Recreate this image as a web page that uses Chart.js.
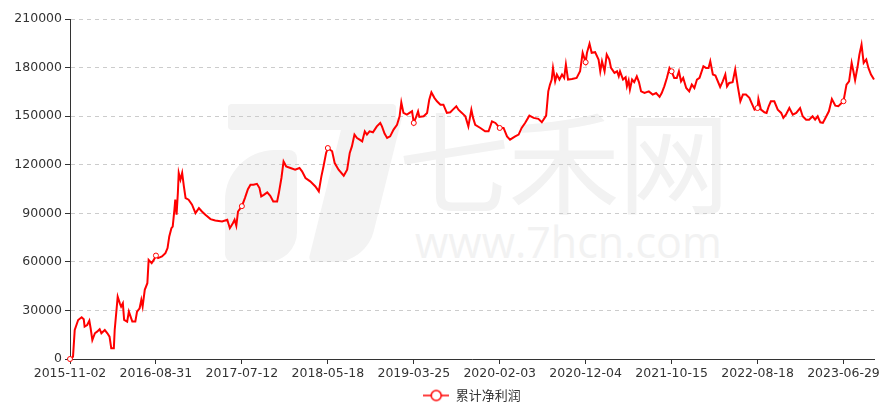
<!DOCTYPE html>
<html>
<head>
<meta charset="utf-8">
<title>累计净利润</title>
<script src="https://cdn.jsdelivr.net/npm/chart.js@4.4.0/dist/chart.umd.min.js"></script>
<style>
  html, body { margin: 0; padding: 0; background: #fff; }
  #wrap { position: relative; width: 896px; height: 409px; overflow: hidden; }
  .watermark { position: absolute; color: #f2f2f2; white-space: nowrap; line-height: 1; }
  #wm-cn { left: 398px; top: 76px; font: 112px "Noto Sans CJK SC", sans-serif; letter-spacing: -2px; }
  #wm-url { left: 415px; top: 212px; font: 43px "Open Sans", sans-serif; }
  .logo { position: absolute; background: #f3f3f3; }
  #logo-bar { left: 228px; top: 104px; width: 168px; height: 26px; border-radius: 4px; }
  #logo-stem { left: 326px; top: 118px; width: 58px; height: 144px; transform: skewX(-14deg); border-radius: 0 0 30px 6px; }
  #logo-leaf { left: 225px; top: 150px; width: 72px; height: 112px; border-radius: 50px 8px 30px 8px; }
  canvas { position: absolute; left: 0; top: 0; }
</style>
</head>
<body>
<div id="wrap">
  <div class="logo" id="logo-bar"></div>
  <div class="logo" id="logo-stem"></div>
  <div class="logo" id="logo-leaf"></div>
  <div class="watermark" id="wm-cn">七禾网</div>
  <div class="watermark" id="wm-url">www.7hcn.com</div>
  <canvas id="profit-chart" width="896" height="409"></canvas>
</div>
<script>
// data //
const seriesName = '累计净利润';

// x tick labels, one every 200 trading days
const tickLabels = ['2015-11-02', '2016-08-31', '2017-07-12', '2018-05-18', '2019-03-25',
  '2020-02-03', '2020-12-04', '2021-10-15', '2022-08-18', '2023-06-29'];
const tickStep = 200;
const lastDay = 1871;

// trading day index (from 2015-11-02)
const tradeDay = [
  0, 7, 11, 19, 27, 32, 34, 40, 45, 48,
  52, 58, 63, 69, 73, 81, 87, 92, 96, 102,
  104, 111, 116, 119, 123, 126, 133, 137, 141, 145,
  152, 156, 162, 166, 169, 174, 180, 183, 190, 195,
  200, 205, 214, 222, 227, 231, 236, 239, 243, 245,
  248, 251, 253, 257, 261, 265, 269, 276, 284, 292,
  300, 307, 315, 327, 338, 354, 366, 372, 379, 383,
  387, 391, 400, 407, 414, 420, 427, 435, 441, 445,
  451, 459, 466, 473, 482, 486, 492, 497, 503, 513,
  524, 534, 540, 548, 559, 571, 579, 585, 590, 596,
  600, 610, 616, 625, 637, 645, 651, 656, 662, 668,
  674, 680, 686, 691, 697, 705, 714, 722, 726, 732,
  738, 745, 753, 761, 767, 771, 776, 784, 790, 796,
  800, 806, 810, 813, 823, 831, 836, 841, 848, 854,
  862, 869, 877, 885, 891, 899, 904, 912, 920, 927,
  934, 938, 943, 955, 966, 974, 982, 990, 1000, 1009,
  1017, 1024, 1036, 1044, 1051, 1059, 1069, 1079, 1090, 1098,
  1108, 1113, 1117, 1121, 1124, 1129, 1133, 1139, 1145, 1150,
  1154, 1159, 1168, 1179, 1187, 1193, 1200, 1203, 1209, 1214,
  1222, 1230, 1234, 1238, 1244, 1249, 1255, 1259, 1267, 1273,
  1277, 1280, 1287, 1293, 1296, 1300, 1303, 1308, 1313, 1319,
  1324, 1329, 1337, 1347, 1356, 1364, 1372, 1377, 1383, 1389,
  1395, 1400, 1406, 1412, 1417, 1422, 1427, 1434, 1441, 1447,
  1453, 1459, 1465, 1474, 1480, 1486, 1490, 1496, 1502, 1513,
  1519, 1525, 1529, 1534, 1542, 1548, 1554, 1560, 1566, 1573,
  1581, 1586, 1593, 1600, 1602, 1608, 1616, 1621, 1626, 1631,
  1639, 1647, 1655, 1660, 1666, 1674, 1682, 1690, 1699, 1705,
  1713, 1720, 1728, 1734, 1740, 1746, 1752, 1758, 1766, 1773,
  1781, 1788, 1800, 1807, 1813, 1819, 1823, 1827, 1833, 1837,
  1842, 1847, 1853, 1858, 1864, 1871
];

// cumulative net profit
const netProfit = [
  0, 1400, 18000, 24100, 25800, 24500, 20000, 21000, 23700, 19000,
  11700, 15900, 16900, 18400, 15900, 17900, 15900, 13800, 6600, 6600,
  17900, 38500, 34400, 32400, 34400, 24100, 23100, 29300, 26200, 23100,
  23100, 29300, 31300, 36500, 32400, 42700, 46800, 61200, 59200, 61200,
  63900, 62300, 63300, 65400, 68500, 75700, 80800, 81800, 92200, 98400,
  89100, 102500, 114900, 110700, 114900, 106600, 99400, 98400, 95300, 90100,
  93200, 91100, 89100, 86400, 85600, 84900, 86000, 80800, 83900, 86000,
  82300, 91100, 94400, 99400, 104900, 107600, 107600, 108200, 105600, 100400,
  101400, 102900, 100800, 97300, 97300, 102500, 111800, 122000, 119000, 118000,
  116900, 118000, 115900, 111800, 109700, 106600, 103500, 112800, 119000, 127300,
  130300, 128300, 121000, 116900, 113200, 116900, 127300, 131300, 138600, 136500,
  135500, 134400, 140600, 138600, 140600, 140000, 143700, 145800, 143700, 139200,
  136500, 137500, 141700, 144700, 149900, 158500, 152000, 150900, 152000, 153000,
  145800, 149900, 153000, 149500, 149900, 152000, 160200, 164700, 161300, 159200,
  157100, 157100, 152000, 152400, 154000, 156100, 154000, 152000, 149900, 143700,
  154000, 148900, 144700, 142700, 140600, 140600, 146800, 145800, 142700, 142700,
  137500, 135500, 137500, 138600, 142700, 145800, 150300, 148900, 148300, 146200,
  150300, 165300, 169500, 172600, 179800, 171500, 175700, 172600, 175700, 173600,
  181900, 172600, 173000, 173600, 177700, 189100, 183300, 189100, 194700, 189100,
  189500, 185000, 177700, 183900, 177700, 188000, 185000, 179800, 176700, 177700,
  174600, 177700, 172600, 174000, 168400, 172000, 166400, 172600, 171000, 174600,
  171000, 165300, 164300, 165300, 163300, 164300, 161900, 164300, 168400, 173600,
  179800, 177700, 173600, 173600, 177700, 171500, 173600, 167400, 165300, 169500,
  167400, 172600, 173600, 180800, 179800, 179800, 183900, 175700, 175100, 168000,
  171500, 175700, 168400, 170500, 171000, 178800, 168400, 159200, 163300, 163300,
  161300, 158200, 154000, 155000, 160600, 154000, 152400, 152000, 156100, 159200,
  159200, 154000, 152000, 148900, 150900, 155000, 150900, 152000, 155000, 149900,
  147800, 147800, 149900, 147800, 149900, 146200, 145800, 148900, 153000, 160600,
  156500, 156100, 159200, 169500, 171500, 182900, 177700, 172200, 180800, 188000,
  194200, 182900, 185000, 179800, 175700, 172600
];

const yTicks = { min: 0, max: 210000, step: 30000 };

// styles //
const lineRed = '#ff0000';
const textColor = '#333';
const axisFont = { family: 'DejaVu Sans', size: 12.5 };

// legend icon: line with hollow circle
function makeLegendIcon() {
  const c = document.createElement('canvas');
  c.width = 26;
  c.height = 14;
  const g = c.getContext('2d');
  g.strokeStyle = lineRed;
  g.lineWidth = 1.5;
  g.beginPath();
  g.moveTo(0, 7);
  g.lineTo(26, 7);
  g.stroke();
  g.beginPath();
  g.arc(13, 7, 5, 0, Math.PI * 2);
  g.fillStyle = '#fff';
  g.fill();
  g.stroke();
  return c;
}
const legendIcon = makeLegendIcon();

// legend sits centred under the plot, a bit lower than chart.js puts it
const legendNudge = {
  id: 'legendNudge',
  afterLayout(chart) {
    const lg = chart.legend;
    if (!lg) return;
    const shift = (chart.chartArea.left + chart.chartArea.right) / 2 - (lg.left + lg.right) / 2;
    lg.left += shift;
    lg.right += shift;
    lg.top += 3;
    lg.bottom += 3;
  }
};

const points = tradeDay.map((d, i) => ({ x: d, y: netProfit[i] }));

new Chart(document.getElementById('profit-chart'), {
  type: 'line',
  data: {
    datasets: [{
      label: seriesName,
      data: points,
      borderColor: lineRed,
      borderWidth: 2,
      backgroundColor: '#fff',
      fill: false,
      tension: 0,
      clip: false,
      // hollow circles only where an x label sits
      pointRadius: ctx => (ctx.raw && ctx.raw.x % tickStep === 0 ? 2.5 : 0),
      pointBorderWidth: 1,
      pointBorderColor: lineRed,
      pointBackgroundColor: '#fff',
      pointHoverRadius: 0
    }]
  },
  plugins: [legendNudge],
  options: {
    responsive: false,
    animation: false,
    events: [],
    layout: { padding: { top: 19, right: 22, left: 0, bottom: 0 } },
    scales: {
      x: {
        type: 'linear',
        min: 0,
        max: lastDay,
        afterFit: scale => { scale.height = 21; },
        grid: { drawOnChartArea: false, drawTicks: true, tickLength: 5, tickColor: textColor },
        border: { color: textColor, width: 1 },
        ticks: {
          stepSize: tickStep,
          includeBounds: false,
          autoSkip: false,
          maxRotation: 0,
          padding: 2,
          color: textColor,
          font: axisFont,
          callback: v => tickLabels[v / tickStep] || ''
        }
      },
      y: {
        min: yTicks.min,
        max: yTicks.max,
        afterFit: scale => { scale.width = 70; },
        grid: { color: '#ccc', tickColor: textColor, tickLength: 5, lineWidth: 1 },
        border: { color: textColor, width: 1, dash: [4, 4] },
        ticks: {
          stepSize: yTicks.step,
          padding: 3,
          color: textColor,
          font: axisFont,
          callback: v => String(v)
        }
      }
    },
    plugins: {
      tooltip: { enabled: false },
      legend: {
        position: 'bottom',
        labels: {
          usePointStyle: true,
          pointStyleWidth: 26,
          padding: 6,
          color: textColor,
          font: { family: 'Noto Sans CJK SC', size: 13 },
          generateLabels: () => [{
            text: seriesName,
            pointStyle: legendIcon,
            fontColor: textColor,
            hidden: false,
            datasetIndex: 0,
            lineWidth: 0
          }]
        }
      }
    }
  }
});
</script>
</body>
</html>
